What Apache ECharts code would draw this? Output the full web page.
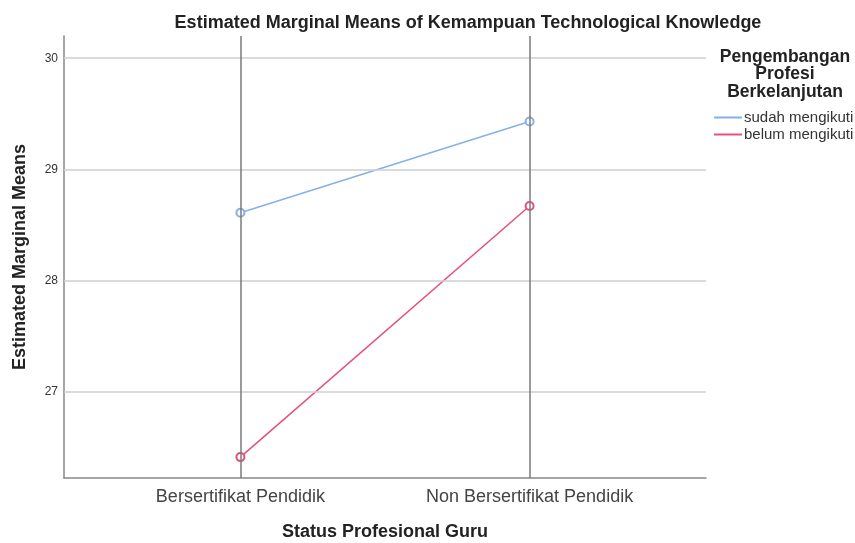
<!DOCTYPE html>
<html><head><meta charset="utf-8">
<script src="https://cdn.jsdelivr.net/npm/echarts@6/dist/echarts.min.js"></script>
<style>html,body{margin:0;padding:0;background:#fff}#c{width:855px;height:543px}</style>
</head><body><div id="c"></div>
<script>
const categories = ['Bersertifikat Pendidik', 'Non Bersertifikat Pendidik'];
const categoryPos = [1, 2];
const sudahMengikuti = [28.61, 29.43];
const belumMengikuti = [26.41, 28.67];
const yTicks = [27, 28, 29, 30];
const seriesNames = ['sudah mengikuti', 'belum mengikuti'];

const FONT = '"Liberation Sans", Arial, sans-serif';
const chart = echarts.init(document.getElementById('c'), null, {renderer: 'canvas'});
function pts(vals) { return vals.map((v, i) => [categoryPos[i], v]); }

chart.setOption({
  animation: false,
  backgroundColor: '#fff',
  title: [
    {text: 'Estimated Marginal Means of Kemampuan Technological Knowledge', left: 463, top: 9, textAlign: 'center',
     textStyle: {fontFamily: FONT, fontSize: 18, fontWeight: 'bold', color: '#222'}},
    {text: 'Pengembangan\nProfesi\nBerkelanjutan', left: 780, top: 43, textAlign: 'center',
     textStyle: {fontFamily: FONT, fontSize: 17.5, fontWeight: 'bold', color: '#222', lineHeight: 17.5, align: 'center'}}
  ],
  legend: {
    orient: 'vertical', left: 709, top: 105, itemGap: 2, icon: 'rect', itemWidth: 28, itemHeight: 2,
    textStyle: {fontFamily: FONT, fontSize: 15, color: '#333', padding: [0, 0, 0, -3]},
    data: seriesNames
  },
  grid: {left: 64, right: 149, top: 36, bottom: 65, containLabel: false, outerBoundsMode: 'none'},
  xAxis: {
    type: 'value', min: 0.39, max: 2.61,
    name: 'Status Profesional Guru', nameLocation: 'middle', nameGap: 45,
    nameTextStyle: {fontFamily: FONT, fontSize: 18, fontWeight: 'bold', color: '#222'},
    axisLine: {show: true, onZero: false, lineStyle: {color: '#888', width: 1.5}},
    axisTick: {show: false},
    splitLine: {show: false},
    axisLabel: {customValues: categoryPos, formatter: v => categories[categoryPos.indexOf(v)] || '',
      fontFamily: FONT, fontSize: 18, color: '#444', margin: 10}
  },
  yAxis: {
    type: 'value', min: 26.222, max: 30.2,
    name: 'Estimated Marginal Means', nameLocation: 'middle', nameGap: 35,
    nameTextStyle: {fontFamily: FONT, fontSize: 18, fontWeight: 'bold', color: '#222'},
    axisLine: {show: true, lineStyle: {color: '#888', width: 1.5}},
    axisTick: {show: false},
    splitLine: {show: false},
    axisLabel: {customValues: yTicks, fontFamily: FONT, fontSize: 12, color: '#333', margin: 6}
  },
  series: [
    {type: 'line', name: '_grid', data: [], silent: true, z: 1,
     markLine: {silent: true, symbol: 'none', label: {show: false}, animation: false,
       data: yTicks.map(t => ({yAxis: t, lineStyle: {color: '#cfcfcf', width: 1.5, type: 'solid'}}))
         .concat(categoryPos.map(c => ({xAxis: c, lineStyle: {color: '#7a7a7a', width: 1.5, type: 'solid'}})))}},
    {type: 'line', name: seriesNames[0], data: pts(sudahMengikuti), z: 3,
     symbol: 'emptyCircle', symbolSize: 8, color: '#86b0e8',
     lineStyle: {width: 1.5, color: '#86b0e8'}, itemStyle: {color: '#86b0e8', borderWidth: 1.5}},
    {type: 'line', name: seriesNames[1], data: pts(belumMengikuti), z: 3,
     symbol: 'emptyCircle', symbolSize: 8, color: '#e4507a',
     lineStyle: {width: 1.5, color: '#e4507a'}, itemStyle: {color: '#e4507a', borderWidth: 1.5}}
  ]
});
</script></body></html>
